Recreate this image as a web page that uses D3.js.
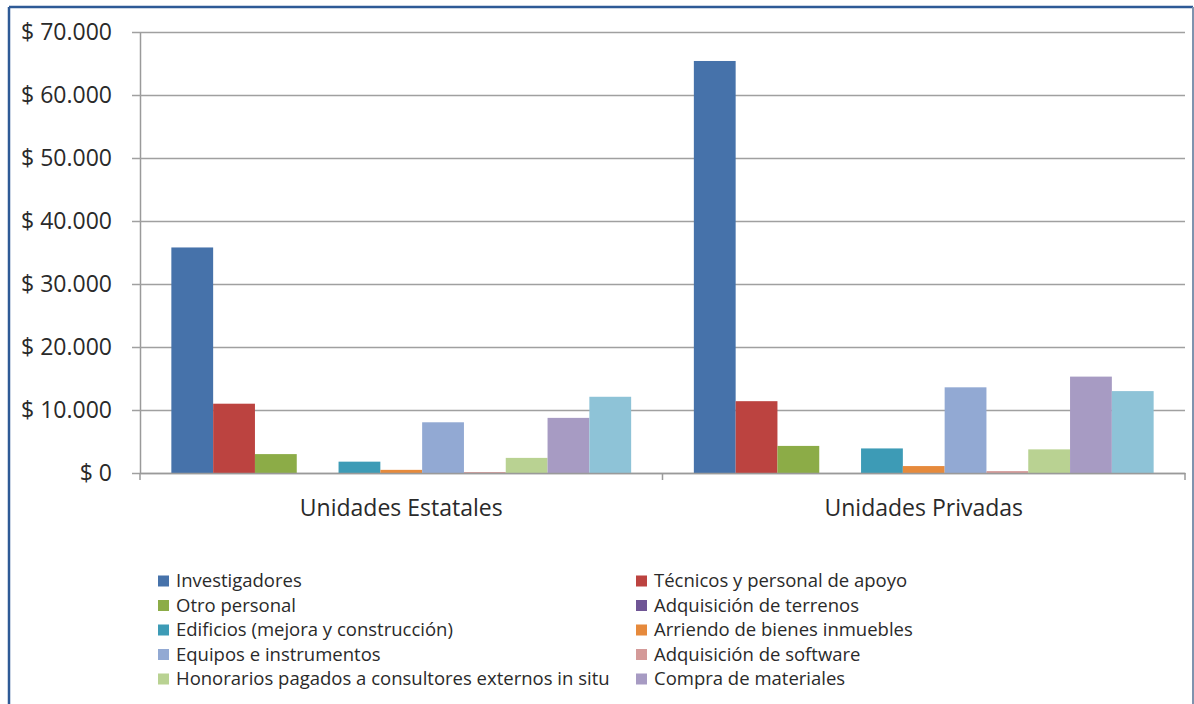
<!DOCTYPE html>
<html><head><meta charset="utf-8">
<script src="https://cdn.jsdelivr.net/npm/d3@7"></script>
<style>body{margin:0;background:#fff}svg{display:block}</style>
</head><body>
<svg id="c" width="1194" height="704"></svg>
<script>
const categories = ["Unidades Estatales", "Unidades Privadas"];
const seriesNames = [
  "Investigadores",
  "Técnicos y personal de apoyo",
  "Otro personal",
  "Adquisición de terrenos",
  "Edificios (mejora y construcción)",
  "Arriendo de bienes inmuebles",
  "Equipos e instrumentos",
  "Adquisición de software",
  "Honorarios pagados a consultores externos in situ",
  "Compra de materiales",
  "Otros"
];
const estatales = [35800, 11000, 3000, 0, 1800, 500, 8050, 150, 2400, 8750, 12100];
const privadas  = [65400, 11400, 4300, 0, 3900, 1100, 13600, 300, 3750, 15300, 13000];
const yTicks = [0, 10000, 20000, 30000, 40000, 50000, 60000, 70000];
const legendCount = 10;
const colors = ["#4672AA", "#BC4340", "#8CAC47", "#6F5595", "#3D9BB6", "#E68A3C",
                "#92A9D3", "#D49A99", "#B9D292", "#A79BC3", "#8EC3D7"];

const values = [estatales, privadas];
const svg = d3.select("#c");
const font = "'Open Sans', 'Liberation Sans', sans-serif";

// frame
svg.append("line").attr("x1", 9).attr("x2", 1193).attr("y1", 7).attr("y2", 7).attr("stroke", "#2E5A96").attr("stroke-width", 2.5);
svg.append("line").attr("x1", 9).attr("x2", 9).attr("y1", 7).attr("y2", 704).attr("stroke", "#2E5A96").attr("stroke-width", 2.5);
svg.append("line").attr("x1", 1193).attr("x2", 1193).attr("y1", 7).attr("y2", 704).attr("stroke", "#7F93AE").attr("stroke-width", 2);

const pLeft = 140, pRight = 1185, pTop = 32, pBottom = 473;
const x0 = d3.scaleBand().domain(categories).range([pLeft, pRight]).paddingInner(0).paddingOuter(0);
const x1 = d3.scaleBand().domain(d3.range(seriesNames.length)).range([0, x0.bandwidth()]).paddingInner(0).paddingOuter(0.75);
const y = d3.scaleLinear().domain([0, 70000]).range([pBottom, pTop]);

const fmt = d => "$ " + d3.format(",")(d).replace(/,/g, ".");

// gridlines + y axis
const yAxis = d3.axisLeft(y).tickValues(yTicks).tickFormat(fmt).tickSize(-(pRight - pLeft)).tickSizeOuter(0);
const gy = svg.append("g").attr("transform", `translate(${pLeft},0)`).call(yAxis);
gy.select(".domain").attr("stroke", "#9a9a9a").attr("stroke-width", 1.5);
gy.selectAll(".tick line").attr("stroke", "#a0a0a0").attr("stroke-width", 1.5).attr("x1", -8);
gy.selectAll(".tick text").attr("x", -28).attr("font-family", font).attr("font-size", 23).attr("fill", "#2a2a2a");

// bars
categories.forEach((cat, ci) => {
  svg.append("g").selectAll("rect").data(values[ci]).join("rect")
    .attr("x", (d, i) => x0(cat) + x1(i))
    .attr("width", x1.bandwidth())
    .attr("y", d => y(d))
    .attr("height", d => y(0) - y(d))
    .attr("fill", (d, i) => colors[i]);
});

// x axis
const xAxis = d3.axisBottom(x0).tickSize(0).tickSizeOuter(0);
const gx = svg.append("g").attr("transform", `translate(0,${pBottom})`).call(xAxis);
gx.select(".domain").attr("stroke", "#9a9a9a").attr("stroke-width", 1.5);
gx.selectAll(".tick text").attr("dy", 0).attr("y", 43).attr("font-family", font).attr("font-size", 23).attr("fill", "#2a2a2a");
[pLeft, x0(categories[1]), pRight].forEach(xx => {
  svg.append("line").attr("x1", xx).attr("x2", xx).attr("y1", pBottom).attr("y2", pBottom + 7).attr("stroke", "#9a9a9a").attr("stroke-width", 1.5);
});

// legend
const lg = svg.append("g");
seriesNames.slice(0, legendCount).forEach((n, i) => {
  const col = i % 2, row = Math.floor(i / 2);
  const lx = col === 0 ? 158 : 636;
  const ly = 581 + row * 24.5;
  lg.append("rect").attr("x", lx).attr("y", ly - 5.5).attr("width", 11).attr("height", 11).attr("fill", colors[i]);
  lg.append("text").attr("x", lx + 18).attr("y", ly).attr("dy", "0.35em")
    .attr("font-family", font).attr("font-size", 18.5).attr("fill", "#2a2a2a").text(n);
});
</script>
</body></html>
